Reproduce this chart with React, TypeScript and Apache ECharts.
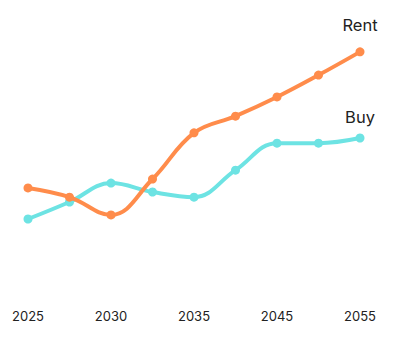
import React, { useEffect, useRef } from "react";
import * as echarts from "echarts";

const years = ["2025", "2027", "2030", "2032", "2035", "2040", "2045", "2050", "2055"];
const rentValues = [41.5, 38.1, 31.5, 44.8, 61.9, 68.1, 75.2, 83.3, 91.9];
const buyValues = [30, 36.3, 43.3, 40, 38.1, 48.1, 58.1, 58.1, 60];
const seriesNames = ["Rent", "Buy"];

function withEndLabel(values: number[], name: string, distance: number) {
  return values.map((v, i) =>
    i === values.length - 1
      ? {
          value: v,
          label: {
            show: true,
            position: "top",
            distance,
            formatter: name,
            fontSize: 16.5,
            color: "#222",
            fontFamily: "Inter, 'Noto Sans', sans-serif",
          },
        }
      : v
  );
}

export default function App() {
  const ref = useRef<HTMLDivElement>(null);
  useEffect(() => {
    if (!ref.current) return;
    const chart = echarts.init(ref.current, null, { renderer: "svg" });
    chart.setOption({
      animation: false,
      grid: { left: 28, right: 46, top: 30, bottom: 45, containLabel: false },
      xAxis: {
        type: "category",
        data: years,
        boundaryGap: false,
        axisLine: { show: false },
        axisTick: { show: false },
        splitLine: { show: false },
        axisLabel: {
          interval: 1,
          margin: 9,
          fontSize: 13,
          color: "#222",
          fontFamily: "Inter, 'Noto Sans', sans-serif",
        },
      },
      yAxis: {
        type: "value",
        min: 0,
        max: 100,
        show: false,
      },
      series: [
        {
          name: seriesNames[0],
          type: "line",
          smooth: 0.4,
          data: withEndLabel(rentValues, seriesNames[0], 14),
          symbol: "circle",
          symbolSize: 9,
          lineStyle: { width: 4, color: "#FF8C4B" },
          itemStyle: { color: "#FF8C4B" },
          z: 3,
        },
        {
          name: seriesNames[1],
          type: "line",
          smooth: 0.4,
          data: withEndLabel(buyValues, seriesNames[1], 8),
          symbol: "circle",
          symbolSize: 9,
          lineStyle: { width: 4, color: "#6DE3E3" },
          itemStyle: { color: "#6DE3E3" },
          z: 2,
        },
      ],
    });
    return () => chart.dispose();
  }, []);
  return <div ref={ref} style={{ width: 406, height: 345, position: "absolute", left: 0, top: 0 }} />;
}
